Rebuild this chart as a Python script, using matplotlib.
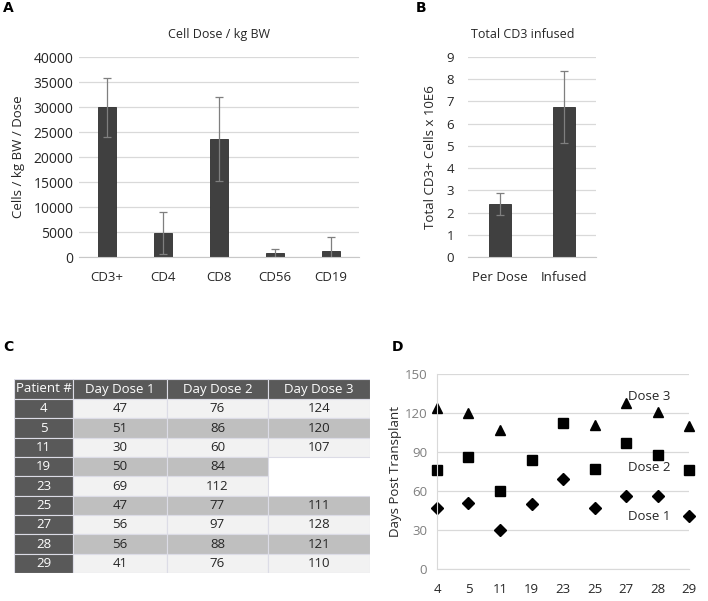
import matplotlib
matplotlib.use("Agg")
import matplotlib.pyplot as plt
import numpy as np

plt.rcParams['font.family'] = ['Open Sans', 'DejaVu Sans']

# Panel A data
a_cats = ["CD3+", "CD4", "CD8", "CD56", "CD19"]
a_vals = [30000, 4800, 23700, 800, 1300]
a_errs = [5900, 4200, 8400, 800, 2700]
a_ticks = [0, 5000, 10000, 15000, 20000, 25000, 30000, 35000, 40000]

# Panel B data
b_cats = ["Per Dose", "Infused"]
b_vals = [2.4, 6.75]
b_errs = [0.5, 1.6]
b_ticks = list(range(0, 10))

# Panel C / D data
patients = ["4", "5", "11", "19", "23", "25", "27", "28", "29"]
dose1 = [47, 51, 30, 50, 69, 47, 56, 56, 41]
dose2 = [76, 86, 60, 84, 112, 77, 97, 88, 76]
dose3 = [124, 120, 107, None, None, 111, 128, 121, 110]
col_labels = ["Patient #", "Day Dose 1", "Day Dose 2", "Day Dose 3"]
d_ticks = [0, 30, 60, 90, 120, 150]

W, H = 708, 601
fig = plt.figure(figsize=(W / 100, H / 100), dpi=100)

def frac(x0, y0, x1, y1):
    return [x0 / W, 1 - y1 / H, (x1 - x0) / W, (y1 - y0) / H]

BAR = "#404040"
GRID = "#d9d9d9"
TXT = "#262626"

def style_bar_axes(ax, ysize):
    for s in ["top", "right", "left"]:
        ax.spines[s].set_visible(False)
    ax.spines["bottom"].set_color("#c8c8c8")
    ax.yaxis.grid(True, color=GRID, lw=0.9)
    ax.set_axisbelow(True)
    ax.tick_params(axis="both", length=0, colors=TXT)
    ax.tick_params(axis="y", labelsize=ysize, pad=4)
    ax.tick_params(axis="x", labelsize=9.5, pad=10)

# Panel A
axA = fig.add_axes(frac(79, 57, 359, 257))
xa = np.arange(len(a_cats))
axA.bar(xa, a_vals, width=0.31, color=BAR, edgecolor="#2e2e2e", lw=0.6,
        yerr=a_errs, error_kw=dict(ecolor="#7f7f7f", elinewidth=0.9, capsize=3, capthick=0.9))
axA.set_xlim(-0.5, len(a_cats) - 0.5)
axA.set_ylim(0, 40000)
axA.set_yticks(a_ticks)
axA.set_xticks(xa)
axA.set_xticklabels(a_cats)
style_bar_axes(axA, 10)
axA.set_title("Cell Dose / kg BW", fontsize=9, color=TXT, pad=14)
axA.set_ylabel("Cells / kg BW / Dose", fontsize=9.5, color=TXT, labelpad=6)

# Panel B
axB = fig.add_axes(frac(468, 57, 596, 257))
xb = np.arange(len(b_cats))
axB.bar(xb, b_vals, width=0.33, color=BAR, edgecolor="#2e2e2e", lw=0.6,
        yerr=b_errs, error_kw=dict(ecolor="#7f7f7f", elinewidth=0.9, capsize=3, capthick=0.9))
axB.set_xlim(-0.5, len(b_cats) - 0.5)
axB.set_ylim(0, 9)
axB.set_yticks(b_ticks)
axB.set_xticks(xb)
axB.set_xticklabels(b_cats)
style_bar_axes(axB, 9.5)
axB.tick_params(axis="y", pad=10)
axB.set_title("Total CD3 infused", fontsize=9, color=TXT, pad=14, x=0.43)
axB.set_ylabel("Total CD3+ Cells x 10E6", fontsize=9.5, color=TXT, labelpad=7)

# Panel C table
axC = fig.add_axes(frac(14, 379, 370, 573))
axC.set_axis_off()
axC.set_xlim(0, 356)
axC.set_ylim(194, 0)
col_w = [59, 94, 101, 102]
col_x = np.concatenate([[0], np.cumsum(col_w)])
hdr_h = 20
row_h = (194 - hdr_h) / len(patients)
DARK = "#595959"
LIGHT = "#f2f2f2"
MID = "#bfbfbf"
EDGE = "#dcdce6"

def cell(x0, y0, w, h, fc, text, tc):
    axC.add_patch(plt.Rectangle((x0, y0), w, h, facecolor=fc, edgecolor=EDGE, lw=0.8))
    if text is not None:
        axC.text(x0 + w / 2, y0 + h / 2, text, ha="center", va="center", color=tc, fontsize=9.5)

for j, lab in enumerate(col_labels):
    cell(col_x[j], 0, col_w[j], hdr_h, DARK, lab, "white")
for i, p in enumerate(patients):
    y0 = hdr_h + i * row_h
    bg = LIGHT if i % 2 == 0 else MID
    cell(col_x[0], y0, col_w[0], row_h, DARK, p, "white")
    vals = [dose1[i], dose2[i], dose3[i]]
    for j, v in enumerate(vals):
        if v is None:
            continue
        cell(col_x[j + 1], y0, col_w[j + 1], row_h, bg, str(v), TXT)

# Panel D
axD = fig.add_axes(frac(437, 374, 689, 569))
xd = np.arange(len(patients))
d3x = [x for x, v in zip(xd, dose3) if v is not None]
d3y = [v for v in dose3 if v is not None]
axD.plot(xd, dose1, ls="none", marker="D", ms=6.2, color="black", clip_on=False)
axD.plot(xd, dose2, ls="none", marker="s", ms=6.5, color="black", clip_on=False)
axD.plot(d3x, d3y, ls="none", marker="^", ms=7.5, color="black", clip_on=False)
axD.set_xlim(0, len(patients) - 1)
axD.set_ylim(0, 150)
axD.set_yticks(d_ticks)
axD.set_xticks(xd)
axD.set_xticklabels(patients)
for s in ["top", "right"]:
    axD.spines[s].set_visible(False)
axD.spines["left"].set_color(GRID)
axD.spines["bottom"].set_color(GRID)
axD.yaxis.grid(True, color=GRID, lw=0.9)
axD.set_axisbelow(True)
axD.tick_params(axis="both", length=0, labelsize=9.5)
axD.tick_params(axis="y", colors="#7f7f7f", pad=7)
axD.tick_params(axis="x", colors=TXT, pad=10)
axD.set_ylabel("Days Post Transplant", fontsize=9.5, color=TXT, labelpad=2)
axD.text(6.05, 133, "Dose 3", fontsize=9.5, color=TXT, va="center")
axD.text(6.05, 78, "Dose 2", fontsize=9.5, color=TXT, va="center")
axD.text(6.05, 40, "Dose 1", fontsize=9.5, color=TXT, va="center")

# Panel letters
for lab, x, y in [("A", 3, 8), ("B", 416, 8), ("C", 3, 347), ("D", 392, 347)]:
    fig.text(x / W, 1 - y / H, lab, fontsize=10, fontweight="bold", family=["DejaVu Sans"],
             ha="left", va="center")

fig.savefig("out.png", dpi=100)
